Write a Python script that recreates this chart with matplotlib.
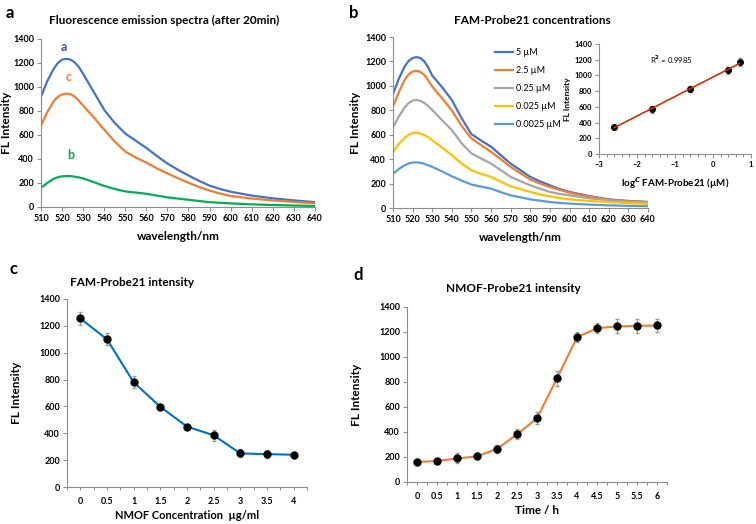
import matplotlib
matplotlib.use("Agg")
import matplotlib.pyplot as plt
import numpy as np
from matplotlib.ticker import MultipleLocator

plt.rcParams["font.family"] = ["Lato", "DejaVu Sans"]
plt.rcParams["font.weight"] = "bold"

# ---- data ----
wl = [510, 513, 516, 518, 520, 522, 524, 526, 528, 530, 535, 540, 545, 550, 555, 560, 565, 570,
      575, 580, 585, 590, 595, 600, 610, 620, 630, 640]
spec_a = [920, 1050, 1150, 1200, 1228, 1235, 1228, 1205, 1165, 1110, 960, 810, 700, 612, 552, 492, 425, 362,
          310, 262, 218, 178, 150, 127, 95, 72, 55, 40]
spec_c = [680, 790, 880, 918, 938, 945, 940, 920, 885, 845, 748, 645, 545, 462, 412, 370, 322, 280,
          240, 202, 167, 137, 112, 92, 70, 55, 42, 30]
spec_b = [160, 200, 235, 248, 255, 258, 257, 253, 246, 238, 208, 175, 150, 130, 120, 110, 95, 80,
          70, 60, 50, 40, 35, 30, 22, 16, 12, 8]

conc_labels = ["5 \u00b5M", "2.5 \u00b5M", "0.25 \u00b5M", "0.025 \u00b5M", "0.0025 \u00b5M"]
conc_spec = [
    [931, 1060, 1160, 1205, 1228, 1236, 1228, 1200, 1150, 1085, 990, 885, 735, 605, 552, 502, 432, 364,
     310, 255, 218, 186, 155, 132, 98, 71, 58, 50],
    [830, 950, 1050, 1095, 1118, 1123, 1115, 1090, 1045, 995, 900, 800, 672, 570, 515, 460, 400, 337,
     285, 233, 200, 173, 148, 126, 94, 68, 56, 48],
    [660, 750, 825, 860, 880, 885, 878, 860, 835, 803, 720, 638, 530, 447, 405, 364, 310, 255,
     220, 186, 158, 132, 115, 104, 80, 63, 52, 45],
    [460, 525, 575, 600, 613, 616, 610, 598, 580, 556, 495, 433, 365, 310, 280, 255, 215, 178,
     155, 132, 112, 96, 82, 71, 58, 49, 40, 35],
    [280, 320, 350, 365, 372, 373, 370, 362, 350, 337, 300, 260, 225, 192, 175, 159, 130, 104,
     88, 71, 60, 49, 42, 36, 28, 22, 18, 15],
]
conc_colors = ["#4472C4", "#ED7D31", "#A5A5A5", "#FFC000", "#5B9BD5"]

log_c = [-2.6, -1.6, -0.6, 0.4, 0.7]
fit_int = [345, 570, 830, 1065, 1170]
fit_err = [30, 45, 40, 45, 50]

nmof = [0, 0.5, 1, 1.5, 2, 2.5, 3, 3.5, 4]
nmof_int = [1255, 1100, 780, 597, 450, 385, 250, 245, 240]
nmof_err = [50, 45, 45, 15, 15, 40, 30, 30, 20]

time_h = [0, 0.5, 1, 1.5, 2, 2.5, 3, 3.5, 4, 4.5, 5, 5.5, 6]
time_int = [160, 168, 188, 205, 265, 380, 510, 830, 1158, 1230, 1245, 1248, 1252]
time_err = [20, 15, 40, 25, 30, 40, 50, 60, 40, 40, 55, 55, 50]

SPINE = "#8c8c8c"
TICK_FS = 6.5
LAB_FS = 8.5
TITLE_FS = 8.5
W, H = 756, 524


def style_ax(ax, fs=TICK_FS):
    for s in ["top", "right"]:
        ax.spines[s].set_visible(False)
    for s in ["left", "bottom"]:
        ax.spines[s].set_color(SPINE)
        ax.spines[s].set_linewidth(0.8)
    ax.tick_params(which="both", direction="out", color=SPINE, width=0.7, labelsize=fs, pad=2)
    ax.tick_params(which="major", length=3)
    ax.tick_params(which="minor", length=2)
    for lab in ax.get_xticklabels() + ax.get_yticklabels():
        lab.set_fontweight("bold")


def title_px(fig, x, y, s):
    # chart titles sit centred on the chart area, not on the plot area
    fig.text(x / W, 1 - y / H, s, fontsize=TITLE_FS, fontweight="bold", ha="center", va="center")


fig = plt.figure(figsize=(7.56, 5.24), dpi=100)

# ---- panel a ----
ax = fig.add_axes([0.0542, 0.605, 0.3624, 0.3206])
ax.plot(wl, spec_a, color="#4472C4", lw=1.6)
ax.plot(wl, spec_c, color="#ED7D31", lw=1.6)
ax.plot(wl, spec_b, color="#00B050", lw=1.6)
ax.set_xlim(510, 640)
ax.set_ylim(0, 1400)
ax.xaxis.set_major_locator(MultipleLocator(10))
ax.yaxis.set_major_locator(MultipleLocator(200))
style_ax(ax)
ax.text(521, 1330, "a", color="#2F5597", fontsize=9, fontweight="bold", ha="center", va="center")
ax.text(523, 1085, "c", color="#ED7D31", fontsize=9, fontweight="bold", ha="center", va="center")
ax.text(524, 435, "b", color="#00B050", fontsize=9, fontweight="bold", ha="center", va="center")
ax.set_xlabel("wavelength/nm", fontsize=LAB_FS, fontweight="bold", labelpad=6)
ax.set_ylabel("FL Intensity", fontsize=LAB_FS, fontweight="bold", labelpad=1)
title_px(fig, 164, 20, "Fluorescence emission spectra (after 20min)")

# ---- panel b ----
ax = fig.add_axes([0.5198, 0.603, 0.3373, 0.3263])
for ys, lab, c in zip(conc_spec, conc_labels, conc_colors):
    ax.plot(wl, ys, color=c, lw=1.6, label=lab)
ax.set_xlim(510, 640)
ax.set_ylim(0, 1400)
ax.xaxis.set_major_locator(MultipleLocator(10))
ax.yaxis.set_major_locator(MultipleLocator(200))
style_ax(ax)
ax.legend(loc="upper left", bbox_to_anchor=(0.37, 0.985), frameon=False,
          handlelength=1.9, handletextpad=0.4, labelspacing=1.0,
          prop={"size": 6.5, "weight": "normal"})
ax.set_xlabel("wavelength/nm", fontsize=LAB_FS, fontweight="bold", labelpad=6)
ax.set_ylabel("FL Intensity", fontsize=LAB_FS, fontweight="bold", labelpad=3)
title_px(fig, 532, 20, "FAM-Probe21 concentrations")

# inset
ax = fig.add_axes([0.7923, 0.706, 0.201, 0.21])
k, b0 = np.polyfit(log_c, fit_int, 1)
ax.plot([log_c[0], log_c[-1]], [k * log_c[0] + b0, k * log_c[-1] + b0], color="#D03000", lw=1.2, zorder=3)
ax.errorbar(log_c, fit_int, yerr=fit_err, fmt="o", color="black", ms=4, ecolor="#999999",
            elinewidth=0.8, capsize=1.5, zorder=2)
ax.set_xlim(-3, 1)
ax.set_ylim(0, 1400)
ax.xaxis.set_major_locator(MultipleLocator(1))
ax.xaxis.set_minor_locator(MultipleLocator(0.2))
ax.yaxis.set_major_locator(MultipleLocator(200))
style_ax(ax, fs=5.5)
ax.text(-1.1, 1200, "R$^2$ = 0.9985", fontsize=5.5, fontweight="normal", ha="center", va="center")
ax.set_xlabel("log$^C$ FAM-Probe21 (\u00b5M)", fontsize=7, fontweight="bold", labelpad=5)
ax.set_ylabel("FL Intensity", fontsize=6, fontweight="bold", labelpad=2)

# ---- panel c ----
ax = fig.add_axes([0.0886, 0.0706, 0.3175, 0.3588])
ax.plot(nmof, nmof_int, color="#0070C0", lw=1.5, zorder=2)
ax.errorbar(nmof, nmof_int, yerr=nmof_err, fmt="o", color="black", ms=5, ecolor="#999999",
            elinewidth=0.8, capsize=1.5, zorder=3)
ax.set_xlim(-0.25, 4.25)
ax.set_ylim(0, 1400)
ax.set_xticks(nmof)
ax.xaxis.set_minor_locator(MultipleLocator(0.25))
ax.set_xticklabels([f"{v:g}" for v in nmof])
ax.yaxis.set_major_locator(MultipleLocator(200))
style_ax(ax)
ax.tick_params(axis="x", which="major", length=2, pad=5)
ax.set_xlabel("NMOF Concentration  \u00b5g/ml", fontsize=8, fontweight="bold", labelpad=3)
ax.set_ylabel("FL Intensity", fontsize=LAB_FS, fontweight="bold", labelpad=12)
title_px(fig, 132, 283, "FAM-Probe21 intensity")

# ---- panel d ----
ax = fig.add_axes([0.5384, 0.0802, 0.3439, 0.334])
ax.plot(time_h, time_int, color="#ED7D31", lw=1.5, zorder=2)
ax.errorbar(time_h, time_int, yerr=time_err, fmt="o", color="black", ms=5, ecolor="#999999",
            elinewidth=0.8, capsize=1.5, zorder=3)
ax.set_xlim(-0.25, 6.25)
ax.set_ylim(0, 1400)
ax.set_xticks(time_h)
ax.xaxis.set_minor_locator(MultipleLocator(0.25))
ax.set_xticklabels([f"{v:g}" for v in time_h])
ax.yaxis.set_major_locator(MultipleLocator(200))
style_ax(ax)
ax.tick_params(axis="x", which="major", length=2, pad=5)
ax.set_xlabel("Time / h", fontsize=LAB_FS, fontweight="bold", labelpad=3)
ax.set_ylabel("FL Intensity", fontsize=LAB_FS, fontweight="bold", labelpad=12)
title_px(fig, 513, 289, "NMOF-Probe21 intensity")

# panel letters
for x, y, t in [(0.008, 0.975, "a"), (0.462, 0.975, "b"), (0.012, 0.487, "c"), (0.468, 0.475, "d")]:
    fig.text(x, y, t, fontsize=12, fontweight="bold", va="center")

fig.savefig("out.png", dpi=100)
